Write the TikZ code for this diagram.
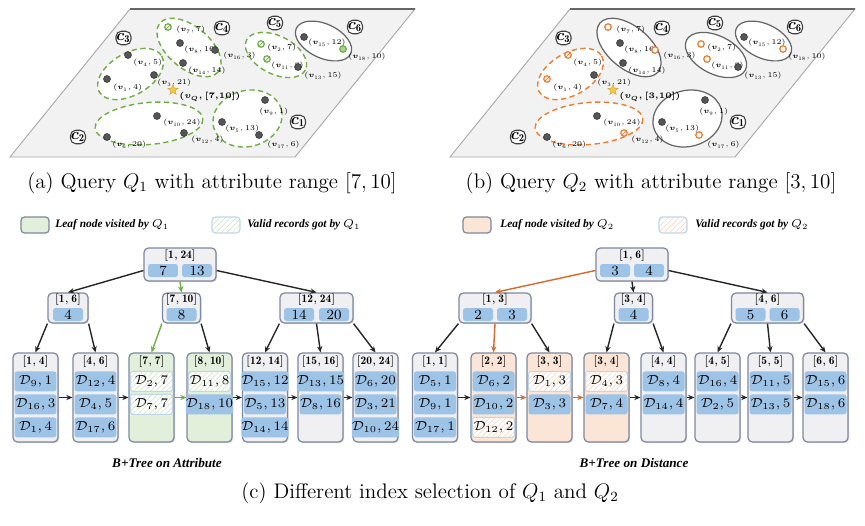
\documentclass[tikz,border=0pt]{standalone}
\usepackage{amsmath,amssymb}
\usepackage{fix-cm}
\usepackage{fontspec}
\newfontfamily\legfont{Liberation Serif}
\usepackage{tikz}
\usetikzlibrary{calc,arrows.meta,shapes.geometric,patterns.meta,shadows}
\usepackage{xcolor}

\definecolor{nodegray}{RGB}{240,240,242}
\definecolor{nodeline}{RGB}{125,136,158}
\definecolor{keyblue}{RGB}{157,195,230}
\definecolor{leafgreen}{RGB}{226,239,218}
\definecolor{leaforange}{RGB}{251,229,214}
\definecolor{qgreen}{RGB}{112,173,71}
\definecolor{qorange}{RGB}{237,125,49}
\definecolor{edgeorange}{RGB}{212,106,46}
\definecolor{hatchblue}{RGB}{189,215,238}
\definecolor{planegray}{RGB}{242,242,242}
\definecolor{ptgray}{RGB}{85,85,85}
\definecolor{stargold}{RGB}{247,199,70}

% leaf box with its range on top
\newcommand{\leafat}[4]{%
  \node[leafbox,fill=#3] (#1) at (#2,397.5) {};
  \node[ttl] (#1-t) at ($(#1.north)+(0,9)$) {$[\mathbf{#4}]$};}
% one record inside a leaf: style, leaf, row, id, value
\newcommand{\recat}[5]{%
  \node[#1] (#2-#3) at ($(#2.north)+(0,{6+23*#3})$) {$\mathcal{D}_{#4},#5$};}

\begin{document}
\begin{tikzpicture}[x=0.02cm,y=-0.02cm,
  plane/.style={fill=planegray,draw=black!35,line width=0.5pt},
  planetop/.style={draw=black!60,line width=1.3pt},
  clus/.style={fill=white,draw=black!60,line width=0.7pt},
  gclus/.style={fill=white,draw=qgreen,line width=0.8pt,dash pattern=on 3pt off 2pt},
  oclus/.style={fill=white,draw=qorange,line width=0.8pt,dash pattern=on 3pt off 2pt},
  clab/.style={draw=black!75,fill=white,line width=0.6pt,rounded corners=3pt,minimum width=0.3cm,minimum height=0.27cm,inner sep=0pt,font=\small},
  vdot/.style={circle,fill=ptgray,draw=black!80,line width=0.3pt,inner sep=0pt,minimum size=0.14cm},
  ghollow/.style={circle,fill=white,draw=qgreen,line width=0.7pt,inner sep=0pt,minimum size=0.13cm},
  gslash/.style={ghollow,path picture={\draw[qgreen,line width=0.4pt] (path picture bounding box.south west) -- (path picture bounding box.north east);}},
  gfill/.style={ghollow,fill=qgreen!55},
  ohollow/.style={ghollow,draw=qorange},
  oslash/.style={ohollow,path picture={\draw[qorange,line width=0.4pt] (path picture bounding box.south west) -- (path picture bounding box.north east);}},
  ptlab/.style={anchor=west,inner sep=0pt,font=\fontsize{4.2}{5}\selectfont},
  qstar/.style={star,star points=5,star point ratio=2.3,fill=stargold,draw=stargold!80!black,line width=0.2pt,inner sep=0pt,minimum size=0.22cm},
  inbox/.style={draw=nodeline,fill=nodegray,rounded corners=2.5pt,line width=0.7pt,inner sep=0pt,
    drop shadow={shadow xshift=0.6pt,shadow yshift=-0.6pt,opacity=0.3}},
  leafbox/.style={inbox,minimum width=0.9cm,minimum height=1.78cm},
  ttl/.style={inner sep=0pt,font=\fontsize{6.5}{7}\selectfont},
  keybox/.style={fill=keyblue,rounded corners=1.5pt,minimum width=0.6cm,minimum height=0.26cm,inner sep=0pt,font=\footnotesize},
  rec/.style={fill=keyblue,rounded corners=1.5pt,minimum width=0.84cm,minimum height=0.4cm,inner sep=0pt,font=\fontsize{7.5}{9}\selectfont},
  grec/.style={rec,draw=hatchblue,line width=0.6pt,fill=white,postaction={pattern={Lines[angle=45,distance=2.2pt,line width=0.3pt]},pattern color=qgreen!35}},
  orec/.style={rec,draw=hatchblue,line width=0.6pt,fill=white,postaction={pattern={Lines[angle=45,distance=2.2pt,line width=0.3pt]},pattern color=qorange!35}},
  tedge/.style={draw=black!85,line width=0.8pt,-{Stealth[length=3.5pt,width=3pt]}},
  gedge/.style={tedge,draw=qgreen},
  oedge/.style={tedge,draw=edgeorange},
  legbox/.style={draw=nodeline,line width=0.7pt,rounded corners=2pt,minimum width=0.56cm,minimum height=0.32cm,inner sep=0pt},
  ghatch/.style={legbox,draw=hatchblue,fill=white,postaction={pattern={Lines[angle=45,distance=2.2pt,line width=0.3pt]},pattern color=qgreen!35}},
  ohatch/.style={legbox,draw=hatchblue,fill=white,postaction={pattern={Lines[angle=45,distance=2.2pt,line width=0.3pt]},pattern color=qorange!35}},
  legtxt/.style={anchor=west,inner sep=0pt,font=\legfont\bfseries\itshape\fontsize{6.5}{8}\selectfont},
  treelab/.style={font=\legfont\bfseries\itshape\fontsize{7.5}{9}\selectfont},
  caplab/.style={font=\large}]
\useasboundingbox (0,0) rectangle (865,525);

% the two query views
\draw[plane] (130,9) -- (415,9) -- (295,157) -- (10,157) -- cycle;
\draw[planetop] (130,9) -- (415,9);
\draw[plane] (570,9) -- (855,9) -- (735,157) -- (450,157) -- cycle;
\draw[planetop] (570,9) -- (855,9);
\foreach \cn/\cx/\cy/\ea/\eb/\ang/\sa/\sb in {3/130.5/74/36/21/30/gclus/oclus,
    4/189/47.5/38/21/-40/gclus/clus, 5/276/55/33/19/-27/gclus/clus,
    6/323.5/41/30/17/-25/clus/clus, 1/247.5/118.5/35/28/15/gclus/clus,
    2/149/123.5/54/21/5/gclus/oclus}{
  \draw[\sa] (\cx,\cy) ellipse [x radius=\ea,y radius=\eb,rotate=\ang];
  \draw[\sb] (\cx+440,\cy) ellipse [x radius=\ea,y radius=\eb,rotate=\ang];
}
\foreach \cn/\lx/\ly in {3/123.5/38,4/222/28,5/275/23,6/355/27,1/298/122,2/78/137}{
  \node[clab] (ca\cn) at (\lx,\ly) {$\boldsymbol{c}_{\mathbf{\cn}}$};
  \node[clab] (cb\cn) at (\lx+440,\ly) {$\boldsymbol{c}_{\mathbf{\cn}}$};
}
\foreach \v/\px/\py/\lx/\ly/\w/\sa/\sb in {7/168/27/176/30/7/gslash/ohollow,
    8/180/43/184/50/16/vdot/vdot, 14/183/63/188/71/14/vdot/vdot,
    16/215/50/223/56/3/vdot/ohollow, 4/128/55/133/63/5/vdot/oslash,
    1/107/79/113/88/4/vdot/oslash, 3/154/75/157/83/21/vdot/vdot,
    10/157/116/163/123/24/vdot/vdot, 6/107/137/112/145/20/vdot/vdot,
    12/184/133/191/140/4/vdot/oslash, 2/261/44/267/48/7/gslash/ohollow,
    11/267/59/271/66/8/gslash/ohollow, 13/298/67/304/76/15/vdot/vdot,
    15/304/37/308/43/12/vdot/vdot, 18/343/49/348/57/10/gfill/ohollow,
    9/265/100/259/112/1/vdot/vdot, 5/222/122/225/129/13/vdot/vdot,
    17/259/135/267/145/6/vdot/ohollow}{
  \node[\sa] (qa\v) at (\px,\py) {};
  \node[ptlab] (qa\v-l) at (\lx,\ly) {$(\boldsymbol{v}_{\v},\w)$};
  \node[\sb] (qb\v) at (\px+440,\py) {};
  \node[ptlab] (qb\v-l) at (\lx+440,\ly) {$(\boldsymbol{v}_{\v},\w)$};
}
\node[qstar] (qaQ) at (173,90) {};
\node[ptlab,font=\fontsize{4.8}{5}\selectfont\boldmath] (qaQ-l) at (179,97) {$(v_{Q},[7{,}10])$};
\node[qstar] (qbQ) at (613,90) {};
\node[ptlab,font=\fontsize{4.8}{5}\selectfont\boldmath] (qbQ-l) at (619,97) {$(v_{Q},[3{,}10])$};

\node[caplab] (capa) at (212,183) {(a) Query $Q_1$ with attribute range $[7,10]$};
\node[caplab] (capb) at (651,183) {(b) Query $Q_2$ with attribute range $[3,10]$};

% legends
\node[legbox,fill=leafgreen] (lga) at (35,225) {};
\node[legtxt] (lga-t) at (55,225) {Leaf node visited by $Q_1$};
\node[ghatch] (lgb) at (226,225) {};
\node[legtxt] (lgb-t) at (247,225) {Valid records got by $Q_1$};
\node[legbox,fill=leaforange] (lgc) at (477,225) {};
\node[legtxt] (lgc-t) at (500,225) {Leaf node visited by $Q_2$};
\node[ohatch] (lgd) at (673,225) {};
\node[legtxt] (lgd-t) at (695,225) {Valid records got by $Q_2$};

% B+tree on attribute
\node[inbox,minimum width=1.44cm,minimum height=0.66cm] (ra) at (180,264.5) {};
\node[ttl] (ra-t) at (180,255.5) {$[\mathbf{1},\mathbf{24}]$};
\node[keybox] (ra1) at (163,270.5) {7};
\node[keybox] (ra2) at (197,270.5) {13};
\node[inbox,minimum width=0.8cm,minimum height=0.6cm] (a1) at (68,308) {};
\node[ttl] (a1-t) at (68,300) {$[\mathbf{1},\mathbf{6}]$};
\node[keybox] (a1k) at (68,314.5) {4};
\node[inbox,minimum width=0.76cm,minimum height=0.6cm] (a2) at (181.5,308) {};
\node[ttl] (a2-t) at (181.5,300) {$[\mathbf{7},\mathbf{10}]$};
\node[keybox] (a2k) at (181.5,314.5) {8};
\node[inbox,minimum width=1.46cm,minimum height=0.6cm] (a3) at (316.5,308) {};
\node[ttl] (a3-t) at (316.5,300) {$[\mathbf{12},\mathbf{24}]$};
\node[keybox] (a3k1) at (299,314.5) {14};
\node[keybox] (a3k2) at (334,314.5) {20};

\leafat{la1}{35.5}{nodegray}{1,4}
\recat{rec}{la1}{1}{9}{1} \recat{rec}{la1}{2}{16}{3} \recat{rec}{la1}{3}{1}{4}
\leafat{la2}{95.5}{nodegray}{4,6}
\recat{rec}{la2}{1}{12}{4} \recat{rec}{la2}{2}{4}{5} \recat{rec}{la2}{3}{17}{6}
\leafat{la3}{151.5}{leafgreen}{7,7}
\recat{grec}{la3}{1}{2}{7} \recat{grec}{la3}{2}{7}{7}
\leafat{la4}{209.5}{leafgreen}{8,10}
\recat{grec}{la4}{1}{11}{8} \recat{rec}{la4}{2}{18}{10}
\leafat{la5}{265}{nodegray}{12,14}
\recat{rec}{la5}{1}{15}{12} \recat{rec}{la5}{2}{5}{13} \recat{rec}{la5}{3}{14}{14}
\leafat{la6}{320.5}{nodegray}{15,16}
\recat{rec}{la6}{1}{13}{15} \recat{rec}{la6}{2}{8}{16}
\leafat{la7}{375.5}{nodegray}{20,24}
\recat{rec}{la7}{1}{6}{20} \recat{rec}{la7}{2}{3}{21} \recat{rec}{la7}{3}{10}{24}

\draw[tedge] (ra.west |- ra1.center) -- (a1.north);
\draw[gedge] (ra.south) -- (a2.north);
\draw[tedge] (ra.east |- ra2.center) -- (a3.north);
\draw[tedge] (a1.south west) -- (la1.north);
\draw[tedge] (a1.south east) -- (la2.north);
\draw[gedge] (a2.south west) -- (la3.north);
\draw[tedge] (a2.south east) -- (la4.north);
\draw[tedge] (a3.south west) -- (la5.north);
\draw[tedge] (a3.south) -- (la6.north);
\draw[tedge] (a3.south east) -- (la7.north);
\draw[tedge] (la1.east) -- (la2.west);
\draw[tedge] (la2.east) -- (la3.west);
\draw[gedge] (la3.east) -- (la4.west);
\draw[tedge] (la4.east) -- (la5.west);
\draw[tedge] (la5.east) -- (la6.west);
\draw[tedge] (la6.east) -- (la7.west);
\node[treelab] (tla) at (167,463) {B+Tree on Attribute};

% B+tree on distance
\node[inbox,minimum width=1.44cm,minimum height=0.66cm] (rb) at (632,264.5) {};
\node[ttl] (rb-t) at (632,255.5) {$[\mathbf{1},\mathbf{6}]$};
\node[keybox] (rb1) at (615,270.5) {3};
\node[keybox] (rb2) at (649,270.5) {4};
\node[inbox,minimum width=1.44cm,minimum height=0.6cm] (b1) at (495,308) {};
\node[ttl] (b1-t) at (495,300) {$[\mathbf{1},\mathbf{3}]$};
\node[keybox] (b1k1) at (478,314.5) {2};
\node[keybox] (b1k2) at (512,314.5) {3};
\node[inbox,minimum width=0.76cm,minimum height=0.6cm] (b2) at (633.5,308) {};
\node[ttl] (b2-t) at (633.5,300) {$[\mathbf{3},\mathbf{4}]$};
\node[keybox] (b2k) at (633.5,314.5) {4};
\node[inbox,minimum width=1.44cm,minimum height=0.6cm] (b3) at (767.5,308) {};
\node[ttl] (b3-t) at (767.5,300) {$[\mathbf{4},\mathbf{6}]$};
\node[keybox] (b3k1) at (750.5,314.5) {5};
\node[keybox] (b3k2) at (784.5,314.5) {6};

\leafat{lb1}{435}{nodegray}{1,1}
\recat{rec}{lb1}{1}{5}{1} \recat{rec}{lb1}{2}{9}{1} \recat{rec}{lb1}{3}{17}{1}
\leafat{lb2}{493.5}{leaforange}{2,2}
\recat{rec}{lb2}{1}{6}{2} \recat{rec}{lb2}{2}{10}{2} \recat{orec}{lb2}{3}{12}{2}
\leafat{lb3}{549.5}{leaforange}{3,3}
\recat{orec}{lb3}{1}{1}{3} \recat{rec}{lb3}{2}{3}{3}
\leafat{lb4}{606.5}{leaforange}{3,4}
\recat{orec}{lb4}{1}{4}{3} \recat{rec}{lb4}{2}{7}{4}
\leafat{lb5}{663.5}{nodegray}{4,4}
\recat{rec}{lb5}{1}{8}{4} \recat{rec}{lb5}{2}{14}{4}
\leafat{lb6}{717.5}{nodegray}{4,5}
\recat{rec}{lb6}{1}{16}{4} \recat{rec}{lb6}{2}{2}{5}
\leafat{lb7}{770.5}{nodegray}{5,5}
\recat{rec}{lb7}{1}{11}{5} \recat{rec}{lb7}{2}{13}{5}
\leafat{lb8}{825.5}{nodegray}{6,6}
\recat{rec}{lb8}{1}{15}{6} \recat{rec}{lb8}{2}{18}{6}

\draw[oedge] (rb.west |- rb1.center) -- (b1.north);
\draw[tedge] (rb.south) -- (b2.north);
\draw[tedge] (rb.east |- rb2.center) -- (b3.north);
\draw[tedge] (b1.south west) -- (lb1.north);
\draw[oedge] (b1.south) -- (lb2.north);
\draw[tedge] (b1.south east) -- (lb3.north);
\draw[tedge] (b2.south west) -- (lb4.north);
\draw[tedge] (b2.south east) -- (lb5.north);
\draw[tedge] (b3.south west) -- (lb6.north);
\draw[tedge] (b3.south) -- (lb7.north);
\draw[tedge] (b3.south east) -- (lb8.north);
\draw[tedge] (lb1.east) -- (lb2.west);
\draw[oedge] (lb2.east) -- (lb3.west);
\draw[oedge] (lb3.east) -- (lb4.west);
\draw[tedge] (lb4.east) -- (lb5.west);
\draw[tedge] (lb5.east) -- (lb6.west);
\draw[tedge] (lb6.east) -- (lb7.west);
\draw[tedge] (lb7.east) -- (lb8.west);
\node[treelab] (tlb) at (634,463) {B+Tree on Distance};

\node[caplab] (capc) at (430,493) {(c) Different index selection of $Q_1$ and $Q_2$};
\end{tikzpicture}
\end{document}
